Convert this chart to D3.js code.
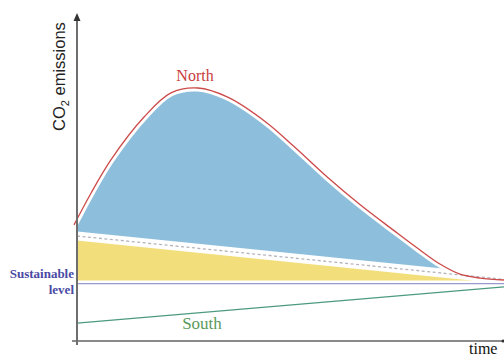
<!DOCTYPE html>
<html><head><meta charset="utf-8">
<script src="https://cdn.jsdelivr.net/npm/d3@7"></script>
<style>html,body{margin:0;padding:0;background:#fff;}svg{display:block;}</style>
</head><body>
<script>
// time (0..100) and emissions (0..100)
const northT = [-0.7, 3.3, 7.9, 15.7, 22, 28.3, 35.3, 44.2, 50.7, 58.6, 66.4, 74.1, 79.7, 85, 89.7, 94.4, 100];
const northV = [35.3, 45.1, 55.2, 68.4, 75.8, 77.3, 74.5, 66.9, 59.5, 50.0, 41.4, 33.7, 28.2, 23.3, 20.2, 19.0, 18.4];
const shareT = [0, 100];
const shareV = [31.9, 18.6];
const southT = [0, 100];
const southV = [5.2, 16.3];
const sustainableLevel = 17.3;
const labels = {north: "North", south: "South", sust1: "Sustainable", sust2: "level", x: "time"};

const W = 504, H = 357;
const svg = d3.select("body").append("svg").attr("width", W).attr("height", H);
const x = d3.scaleLinear().domain([0, 100]).range([77, 504]);
const y = d3.scaleLinear().domain([0, 100]).range([340, 14]);

const north = northT.map((t, i) => ({t, v: northV[i]}));
const share = shareT.map((t, i) => ({t, v: shareV[i]}));
const south = southT.map((t, i) => ({t, v: southV[i]}));
const shareAt = t => d3.scaleLinear().domain(shareT).range(shareV)(t);

svg.append("clipPath").attr("id", "plot").append("rect")
  .attr("x", x(0)).attr("y", 0).attr("width", W - x(0)).attr("height", H);

const curve = d3.curveCatmullRom.alpha(0.5);
const g = svg.append("g").attr("clip-path", "url(#plot)");

// blue area: between share line and North
g.append("path").datum(north)
  .attr("fill", "#8dbfdc")
  .attr("d", d3.area().curve(curve).x(d => x(d.t)).y0(d => y(shareAt(d.t))).y1(d => y(d.v)));
// yellow area: between sustainable level and share line
g.append("path").datum(share)
  .attr("fill", "#f3de7c")
  .attr("d", d3.area().x(d => x(d.t)).y0(y(sustainableLevel)).y1(d => y(d.v)));

// white bands
const lineN = d3.line().curve(curve).x(d => x(d.t)).y(d => y(d.v));
const lineS = d3.line().x(d => x(d.t)).y(d => y(d.v));
g.append("path").datum(north).attr("fill", "none").attr("stroke", "#fff").attr("stroke-width", 7).attr("d", lineN);
g.append("path").datum(share).attr("fill", "none").attr("stroke", "#fff").attr("stroke-width", 9).attr("d", lineS);
g.append("line").attr("x1", x(0)).attr("x2", W).attr("y1", y(sustainableLevel)).attr("y2", y(sustainableLevel))
  .attr("stroke", "#fff").attr("stroke-width", 6);
// dashed share line
g.append("path").datum(share).attr("fill", "none").attr("stroke", "#b4b4bc").attr("stroke-width", 1.3)
  .attr("stroke-dasharray", "3,2.5").attr("d", lineS);

// sustainable level line
svg.append("line").attr("x1", x(0)).attr("x2", W).attr("y1", y(sustainableLevel)).attr("y2", y(sustainableLevel))
  .attr("stroke", "#9a9ad0").attr("stroke-width", 1.3);
// south line
svg.append("path").datum(south).attr("fill", "none").attr("stroke", "#4c9a80").attr("stroke-width", 1.2).attr("d", lineS);
// north line
svg.append("path").datum(north).attr("fill", "none").attr("stroke", "#cc4a4a").attr("stroke-width", 1.3).attr("d", lineN);

// axes
svg.append("line").attr("x1", 72).attr("x2", 503).attr("y1", y(0) + 1).attr("y2", y(0) + 1)
  .attr("stroke", "#8a8a8a").attr("stroke-width", 2);
svg.append("line").attr("x1", x(0)).attr("x2", x(0)).attr("y1", y(0) + 5).attr("y2", y(100) + 4)
  .attr("stroke", "#6e6e6e").attr("stroke-width", 2);
svg.append("path").attr("d", `M${x(0)},${y(100) - 1} L${x(0) - 3.5},${y(100) + 7} L${x(0) + 3.5},${y(100) + 7} Z`).attr("fill", "#333");
svg.append("circle").attr("cx", 503).attr("cy", y(0) + 1).attr("r", 1.5).attr("fill", "#333");

// texts
const yl = svg.append("text").attr("transform", `translate(65,${y(80.8)}) rotate(-90)`)
  .attr("text-anchor", "middle").attr("font-family", "Liberation Sans, Arial, sans-serif")
  .attr("font-size", 16.5).attr("fill", "#222");
yl.append("tspan").text("CO");
yl.append("tspan").attr("font-size", 11).attr("dy", 4).text("2");
yl.append("tspan").attr("dy", -4).text(" emissions");

svg.append("text").attr("x", 195).attr("y", 81).attr("text-anchor", "middle")
  .attr("font-family", "Liberation Serif, Times New Roman, serif").attr("font-size", 16).attr("fill", "#c8403c").text(labels.north);
svg.append("text").attr("x", 202).attr("y", 329).attr("text-anchor", "middle")
  .attr("font-family", "Liberation Serif, Times New Roman, serif").attr("font-size", 17).attr("fill", "#5a9a5a").text(labels.south);
svg.append("text").attr("x", 74).attr("y", 278).attr("text-anchor", "end")
  .attr("font-family", "Liberation Serif, serif").attr("font-weight", "bold").attr("font-size", 13).attr("fill", "#4a4aa4").text(labels.sust1);
svg.append("text").attr("x", 74).attr("y", 294).attr("text-anchor", "end")
  .attr("font-family", "Liberation Serif, serif").attr("font-weight", "bold").attr("font-size", 13).attr("fill", "#4a4aa4").text(labels.sust2);
svg.append("text").attr("x", 469).attr("y", 354)
  .attr("font-family", "Liberation Serif, Times New Roman, serif").attr("font-size", 16).attr("fill", "#111").text(labels.x);
</script>
</body></html>
